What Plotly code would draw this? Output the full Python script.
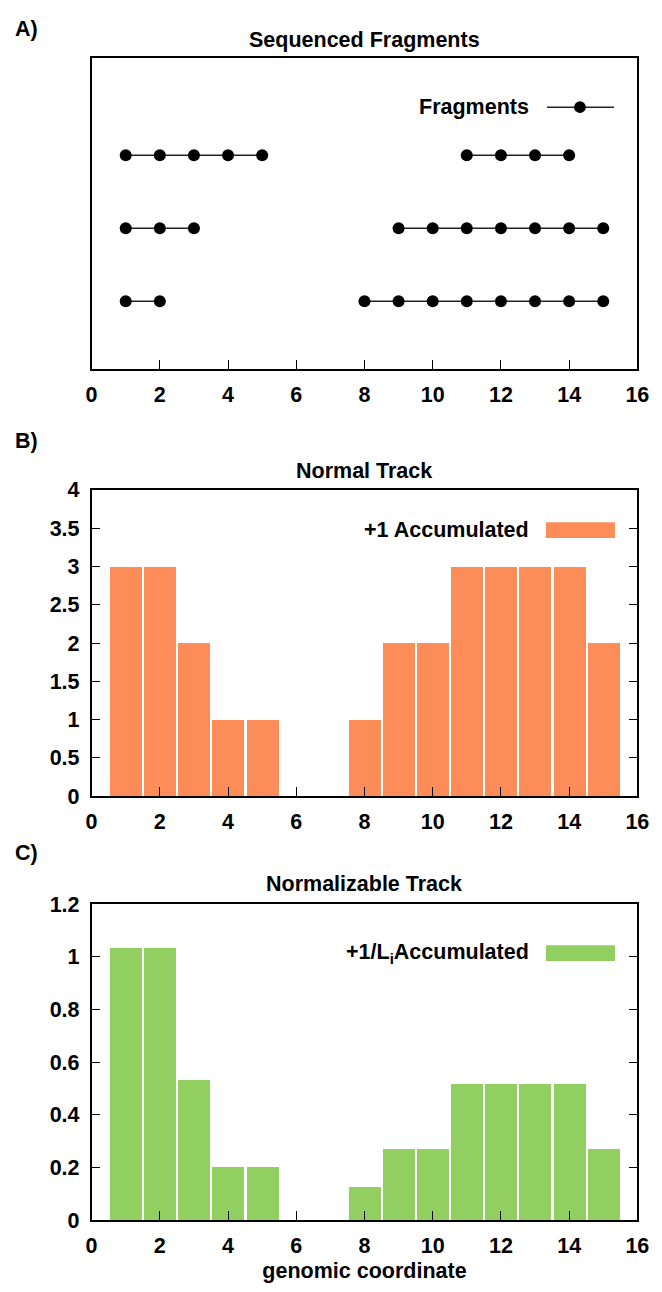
import plotly.graph_objects as go

# ---------------- data ----------------
frag_rows = [3, 3, 2, 2, 1, 1]
frag_positions = [
    [1, 2, 3, 4, 5],
    [11, 12, 13, 14],
    [1, 2, 3],
    [9, 10, 11, 12, 13, 14, 15],
    [1, 2],
    [8, 9, 10, 11, 12, 13, 14, 15],
]
positions = [1, 2, 3, 4, 5, 6, 7, 8, 9, 10, 11, 12, 13, 14, 15]
normal_counts = [3, 3, 2, 1, 1, 0, 0, 1, 2, 2, 3, 3, 3, 3, 2]
normalized_counts = [1.033, 1.033, 0.533, 0.2, 0.2, 0, 0, 0.125, 0.268, 0.268,
                     0.518, 0.518, 0.518, 0.518, 0.268]
x_tick_vals = [0, 2, 4, 6, 8, 10, 12, 14, 16]

panel_titles = ["Sequenced Fragments", "Normal Track", "Normalizable Track"]
panel_letters = ["A)", "B)", "C)"]
legend_labels = ["Fragments", "+1 Accumulated", "+1/L<sub>i</sub>Accumulated"]
x_axis_title = "genomic coordinate"

ORANGE = "#fc8d59"
GREEN = "#91cf60"

# ---------------- layout geometry (pixels) ----------------
W, H = 662, 1292
PX_LEFT, PX_RIGHT = 88, 649
panels_px = [(48, 365), (488, 800), (910, 1232)]


def px(x):
    return x / W


def py(y):
    return 1 - y / H


FONT = "Liberation Sans, Arial, Helvetica, sans-serif"
FS = 21.5

fig = go.Figure()

# fragments (panel A)
fx, fy = [], []
for row, pos in zip(frag_rows, frag_positions):
    fx += pos + [None]
    fy += [row] * len(pos) + [None]
fig.add_trace(go.Scatter(
    x=fx, y=fy, mode="lines+markers", xaxis="x", yaxis="y",
    line=dict(color="#222222", width=1.5),
    marker=dict(color="black", size=12),
    showlegend=False, hoverinfo="skip", connectgaps=False,
))

# normal track (panel B)
fig.add_trace(go.Bar(
    x=positions, y=normal_counts, xaxis="x2", yaxis="y2", width=0.94,
    marker=dict(color=ORANGE, line=dict(width=0)), showlegend=False,
))

# normalizable track (panel C)
fig.add_trace(go.Bar(
    x=positions, y=normalized_counts, xaxis="x3", yaxis="y3", width=0.94,
    marker=dict(color=GREEN, line=dict(width=0)), showlegend=False,
))

tickfont = dict(family=FONT, size=FS, color="black", weight="bold")
bold = dict(family=FONT, size=FS, color="black", weight="bold")

common_x = dict(
    range=[0, 16], tickvals=x_tick_vals, ticks="inside", ticklen=9,
    tickwidth=1, tickcolor="black", showline=True, linecolor="black",
    linewidth=1.5, mirror=True, showgrid=False, zeroline=False,
    tickfont=tickfont, domain=[px(PX_LEFT), px(PX_RIGHT)],
    ticklabelstandoff=5,
)
common_y = dict(
    ticks="inside", ticklen=9, tickwidth=1, tickcolor="black",
    showline=True, linecolor="black", linewidth=1.5, mirror="ticks",
    showgrid=False, zeroline=False, tickfont=tickfont, ticklabelstandoff=6,
)

layout = dict(
    width=W, height=H, margin=dict(l=0, r=0, t=0, b=0),
    paper_bgcolor="white", plot_bgcolor="white", bargap=0,
    showlegend=False,
)
layout["xaxis"] = dict(common_x, anchor="y")
layout["yaxis"] = dict(
    range=[0.07, 4.33], showticklabels=False, ticks="", showline=True,
    linecolor="black", linewidth=1.5, mirror=True, showgrid=False,
    zeroline=False, anchor="x",
    domain=[py(panels_px[0][1]), py(panels_px[0][0])],
)
layout["xaxis2"] = dict(common_x, anchor="y2")
layout["yaxis2"] = dict(common_y, range=[0, 4], dtick=0.5, anchor="x2",
                        domain=[py(panels_px[1][1]), py(panels_px[1][0])])
layout["xaxis3"] = dict(common_x, anchor="y3",
                        title=dict(text=x_axis_title, standoff=6, font=bold))
layout["yaxis3"] = dict(common_y, range=[0, 1.2], dtick=0.2, anchor="x3",
                        domain=[py(panels_px[2][1]), py(panels_px[2][0])])

fig.update_layout(**layout)

title_ys = [30, 469, 890]
letter_ys = [18, 438, 858]
for t, ty, letter, ly in zip(panel_titles, title_ys, panel_letters, letter_ys):
    fig.add_annotation(text=t, x=px((PX_LEFT + PX_RIGHT) / 2), y=py(ty),
                       xref="paper", yref="paper", showarrow=False,
                       xanchor="center", yanchor="middle", font=bold)
    fig.add_annotation(text=letter, x=px(7), y=py(ly), xref="paper",
                       yref="paper", showarrow=False, xanchor="left",
                       yanchor="middle", font=bold)

# legends (text right-aligned, sample to the right, like the original)
leg_text_y = [98, 529, 960]
for lab, ly in zip(legend_labels, leg_text_y):
    fig.add_annotation(text=lab, x=px(540), y=py(ly), xref="paper",
                       yref="paper", showarrow=False, xanchor="right",
                       yanchor="middle", font=bold)

# legend sample A: line with dot
fig.add_shape(type="line", xref="paper", yref="paper", x0=px(556), x1=px(625),
              y0=py(98), y1=py(98), line=dict(color="#222222", width=1.5))
fig.add_shape(type="circle", xref="paper", yref="paper", x0=px(584), x1=px(596),
              y0=py(104), y1=py(92), fillcolor="black", line=dict(width=0))
# legend sample B, C: boxes
fig.add_shape(type="rect", xref="paper", yref="paper", x0=px(555), x1=px(626),
              y0=py(537), y1=py(521), fillcolor=ORANGE, line=dict(width=0))
fig.add_shape(type="rect", xref="paper", yref="paper", x0=px(555), x1=px(626),
              y0=py(968), y1=py(952), fillcolor=GREEN, line=dict(width=0))

fig.write_html("out.html")
